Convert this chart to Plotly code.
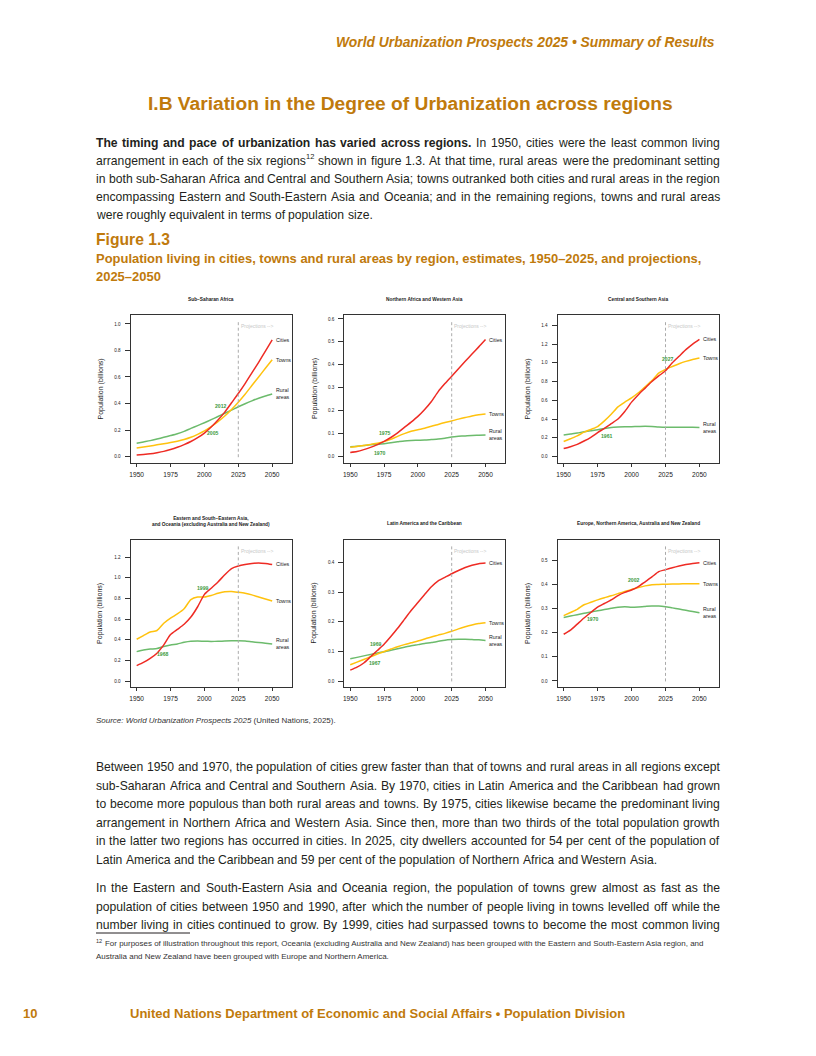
import plotly.graph_objects as go

W, H = 816, 1056
OX, OY = 8, 8   # the page body adds an 8px margin; compensate

years = [1950, 1955, 1960, 1965, 1970, 1975, 1980, 1985, 1990, 1995, 2000,
         2005, 2010, 2015, 2020, 2025, 2030, 2035, 2040, 2045, 2050]

# ---- data (billions) ----
ssa_cities = [.012, .016, .021, .029, .039, .053, .070, .090, .113, .142, .177,
              .222, .275, .335, .405, .475, .55, .63, .71, .795, .88]
ssa_towns = [.065, .072, .080, .088, .096, .105, .115, .128, .145, .167, .193,
             .225, .262, .305, .355, .41, .47, .535, .60, .665, .73]
ssa_rural = [.100, .110, .120, .132, .145, .158, .172, .190, .212, .233, .255,
             .278, .302, .326, .350, .375, .398, .420, .440, .457, .472]

naf_cities = [.018, .022, .030, .040, .052, .066, .083, .103, .127, .150, .175,
              .205, .240, .283, .318, .350, .383, .415, .447, .478, .51]
naf_towns = [.040, .044, .048, .053, .058, .065, .075, .088, .100, .110, .117,
             .123, .132, .140, .148, .155, .163, .170, .177, .182, .185]
naf_rural = [.043, .045, .048, .051, .053, .056, .060, .064, .068, .070, .071,
             .072, .074, .076, .080, .085, .088, .090, .092, .093, .094]

csa_cities = [.085, .105, .130, .165, .205, .255, .30, .35, .40, .48, .58,
              .66, .73, .80, .86, .915, 1.00, 1.07, 1.14, 1.20, 1.25]
csa_towns = [.16, .19, .22, .26, .29, .32, .38, .45, .53, .58, .625,
             .68, .745, .81, .89, .93, .96, .99, 1.015, 1.035, 1.05]
csa_rural = [.23, .24, .25, .265, .275, .285, .30, .31, .315, .318, .318,
             .32, .322, .32, .315, .312, .312, .312, .311, .311, .31]

esa_cities = [.149, .18, .22, .27, .35, .45, .50, .55, .62, .72, .84,
              .90, .96, 1.03, 1.09, 1.115, 1.13, 1.14, 1.145, 1.14, 1.13]
esa_towns = [.405, .44, .475, .49, .56, .61, .65, .70, .79, .815, .815,
             .83, .85, .865, .868, .86, .85, .835, .815, .795, .775]
esa_rural = [.285, .30, .31, .315, .335, .35, .36, .375, .385, .387, .385,
             .384, .385, .388, .39, .39, .387, .38, .374, .367, .36]

lac_cities = [.037, .047, .061, .082, .103, .124, .150, .178, .208, .238, .265,
              .292, .318, .338, .350, .362, .373, .383, .391, .396, .398]
lac_towns = [.055, .064, .073, .082, .091, .100, .108, .116, .123, .129, .135,
             .142, .149, .155, .161, .168, .176, .183, .189, .194, .197]
lac_rural = [.075, .080, .085, .090, .095, .099, .104, .109, .114, .119, .123,
             .127, .130, .134, .138, .140, .141, .141, .140, .139, .137]

eur_cities = [.193, .21, .235, .26, .283, .305, .32, .335, .353, .366, .376,
              .39, .41, .43, .452, .46, .468, .475, .481, .486, .489]
eur_towns = [.270, .283, .296, .315, .325, .335, .344, .352, .361, .370, .378,
             .386, .393, .398, .399, .400, .401, .401, .402, .402, .402]
eur_rural = [.262, .268, .274, .28, .285, .29, .295, .30, .305, .307, .305,
             .306, .308, .31, .31, .307, .302, .297, .292, .287, .282]

titles = ["Sub\u2212Saharan Africa", "Northern Africa and Western Asia",
          "Central and Southern Asia",
          "Eastern and South\u2212Eastern Asia,<br>and Oceania (excluding Australia and New Zealand)",
          "Latin America and the Caribbean",
          "Europe, Northern America, Australia and New Zealand"]

y_ticks = [[0, 0.2, 0.4, 0.6, 0.8, 1.0],
           [0, 0.1, 0.2, 0.3, 0.4, 0.5, 0.6],
           [0, 0.2, 0.4, 0.6, 0.8, 1.0, 1.2, 1.4],
           [0, 0.2, 0.4, 0.6, 0.8, 1.0, 1.2],
           [0, 0.1, 0.2, 0.3, 0.4],
           [0, 0.1, 0.2, 0.3, 0.4, 0.5]]
y_ranges = [[-0.045, 1.067], [-0.026, 0.617], [-0.064, 1.510],
            [-0.055, 1.370], [-0.019, 0.477], [-0.024, 0.584]]
x_ticks = [1950, 1975, 2000, 2025, 2050]

# crossing-year labels: (text, year, value)
cross_labels = [[("2012", 2011.7, 0.38), ("2005", 2006.0, 0.175)],
                [("1975", 1975.5, 0.104), ("1970", 1971.3, 0.017)],
                [("2027", 2026.7, 1.043), ("1961", 1981.4, 0.223)],
                [("1999", 1998.9, 0.906), ("1968", 1969.3, 0.262)],
                [("1969", 1969.0, 0.124), ("1967", 1968.0, 0.060)],
                [("2002", 2001.6, 0.417), ("1970", 1970.9, 0.258)]]

series = [(ssa_cities, ssa_towns, ssa_rural), (naf_cities, naf_towns, naf_rural),
          (csa_cities, csa_towns, csa_rural), (esa_cities, esa_towns, esa_rural),
          (lac_cities, lac_towns, lac_rural), (eur_cities, eur_towns, eur_rural)]

# ---- page text ----
header = "World Urbanization Prospects 2025 \u2022 Summary of Results"
section_title = "I.B Variation in the Degree of Urbanization across regions"
para1 = ["The timing and pace of urbanization has varied across regions. In 1950, cities were the least common living",
         "arrangement in each of the six regions^12 shown in figure 1.3. At that time, rural areas were the predominant setting",
         "in both sub-Saharan Africa and Central and Southern Asia; towns outranked both cities and rural areas in the region",
         "encompassing Eastern and South-Eastern Asia and Oceania; and in the remaining regions, towns and rural areas",
         "were roughly equivalent in terms of population size."]
para1_bold_words = 10
fig_label = "Figure 1.3"
fig_title = ["Population living in cities, towns and rural areas by region, estimates, 1950\u20132025, and projections,",
             "2025\u20132050"]
source_it = "Source: World Urbanization Prospects 2025"
source_rest = " (United Nations, 2025)."
para2 = ["Between 1950 and 1970, the population of cities grew faster than that of towns and rural areas in all regions except",
         "sub-Saharan Africa and Central and Southern Asia. By 1970, cities in Latin America and the Caribbean had grown",
         "to become more populous than both rural areas and towns. By 1975, cities likewise became the predominant living",
         "arrangement in Northern Africa and Western Asia. Since then, more than two thirds of the total population growth",
         "in the latter two regions has occurred in cities. In 2025, city dwellers accounted for 54 per cent of the population of",
         "Latin America and the Caribbean and 59 per cent of the population of Northern Africa and Western Asia."]
para3 = ["In the Eastern and South-Eastern Asia and Oceania region, the population of towns grew almost as fast as the",
         "population of cities between 1950 and 1990, after which the number of people living in towns levelled off while the",
         "number living in cities continued to grow. By 1999, cities had surpassed towns to become the most common living"]
footnote_mark = "12"
footnote = ["For purposes of illustration throughout this report, Oceania (excluding Australia and New Zealand) has been grouped with the Eastern and South-Eastern Asia region, and",
            "Australia and New Zealand have been grouped with Europe and Northern America."]
footer_page = "10"
footer_text = "United Nations Department of Economic and Social Affairs \u2022 Population Division"

# ---- geometry (pixels on the page) ----
col_px = [(130.7, 291.7), (344.3, 505.0), (557.7, 719.0)]
row_px = [(315.0, 462.5), (539.7, 686.7)]

RED, YEL, GRN = "#ee2b24", "#ffc20e", "#6cbb6c"
LBLGRN = "#3d9a3d"
ORANGE = "#c07a0c"
TXT = "#231f20"
FONT = "Liberation Sans, Arial, Helvetica, sans-serif"

# Helvetica/Arial advance widths (per 1000 em) for fitting text
_REG = {' ': 278, '!': 278, '"': 355, "'": 191, '(': 333, ')': 333, ',': 278, '-': 333,
        '.': 278, '/': 278, ':': 278, ';': 278, '?': 556, '\u2013': 556, '\u2022': 350,
        '\u2212': 584, '>': 584, '<': 584,
        'A': 667, 'B': 667, 'C': 722, 'D': 722, 'E': 667, 'F': 611, 'G': 778, 'H': 722,
        'I': 278, 'J': 500, 'K': 667, 'L': 556, 'M': 833, 'N': 722, 'O': 778, 'P': 667,
        'Q': 778, 'R': 722, 'S': 667, 'T': 611, 'U': 722, 'V': 667, 'W': 944, 'X': 667,
        'Y': 667, 'Z': 611,
        'a': 556, 'b': 556, 'c': 500, 'd': 556, 'e': 556, 'f': 278, 'g': 556, 'h': 556,
        'i': 222, 'j': 222, 'k': 500, 'l': 222, 'm': 833, 'n': 556, 'o': 556, 'p': 556,
        'q': 556, 'r': 333, 's': 500, 't': 278, 'u': 556, 'v': 500, 'w': 722, 'x': 500,
        'y': 500, 'z': 500}
_BOLD = dict(_REG)
_BOLD.update({':': 333, ';': 333, 'A': 722, 'B': 722, 'J': 556, 'K': 722, 'L': 611,
              'b': 611, 'c': 556, 'd': 611, 'f': 333, 'g': 611, 'h': 611, 'i': 278,
              'j': 278, 'k': 556, 'l': 278, 'm': 889, 'n': 611, 'o': 611, 'p': 611,
              'q': 611, 'r': 389, 's': 556, 't': 333, 'u': 611, 'v': 556, 'w': 778,
              'x': 556, 'y': 556})


def em_width(s, bold=False):
    tbl = _BOLD if bold else _REG
    return sum(tbl.get(ch, 556) for ch in s) / 1000.0


def px(x):
    return (x - OX) / W


def py(y):
    return 1 - (y - OY) / H


fig = go.Figure()
annotations = []
shapes = []
layout = {}

for i in range(6):
    r, c = divmod(i, 3)
    n = i + 1
    xa = "x" if n == 1 else f"x{n}"
    ya = "y" if n == 1 else f"y{n}"
    cities, towns, rural = series[i]
    for vals, col in ((rural, GRN), (towns, YEL), (cities, RED)):
        fig.add_trace(go.Scatter(x=years, y=vals, mode="lines",
                                 line=dict(color=col, width=1.5, shape="spline", smoothing=0.6),
                                 xaxis=xa, yaxis=ya, showlegend=False,
                                 hoverinfo="skip"))
    xl, xr = col_px[c]
    yt, yb = row_px[r]
    ax_common = dict(showline=True, mirror=True, linecolor="#333", linewidth=1.2,
                     ticks="outside", tickcolor="#333", tickwidth=0.8,
                     showgrid=False, zeroline=False)
    layout["xaxis" if n == 1 else f"xaxis{n}"] = dict(
        domain=[px(xl), px(xr)], range=[1945.6, 2064.4], tickvals=x_ticks,
        anchor=ya, ticklen=3.5, ticklabelstandoff=2,
        tickfont=dict(size=6.6, color="#222", family=FONT), **ax_common)
    layout["yaxis" if n == 1 else f"yaxis{n}"] = dict(
        domain=[py(yb), py(yt)], range=y_ranges[i], tickvals=y_ticks[i],
        ticktext=[f"{v:.1f}" for v in y_ticks[i]], anchor=xa,
        ticklen=5, ticklabelstandoff=3,
        tickfont=dict(size=4.6, color="#222", family=FONT), **ax_common)

    shapes.append(dict(type="line", xref=xa, yref=f"{ya} domain", x0=2025, x1=2025,
                       y0=0.036, y1=0.965,
                       line=dict(color="#aaaaaa", width=1, dash="3px,2.5px")))
    annotations.append(dict(xref=xa, yref=f"{ya} domain", x=2025.5, y=0.925,
                            text="Projections -->", showarrow=False, xanchor="left",
                            yanchor="middle",
                            font=dict(size=5, color="#c8c8c8", family=FONT)))
    for txt, vals in (("Cities", cities), ("Towns", towns), ("Rural<br>areas", rural)):
        annotations.append(dict(xref=xa, yref=ya, x=2051.0, y=vals[-1], text=txt,
                                showarrow=False, xanchor="left", yanchor="middle",
                                align="left",
                                font=dict(size=5.3, color="#222", family=FONT)))
    for txt, xv, yv in cross_labels[i]:
        annotations.append(dict(xref=xa, yref=ya, x=xv, y=yv, text=f"<b>{txt}</b>",
                                showarrow=False, xanchor="center", yanchor="middle",
                                font=dict(size=5.1, color=LBLGRN, family=FONT)))
    ty = 299 if r == 0 else (521 if i == 3 else 523)
    annotations.append(dict(xref="paper", yref="paper", x=px((xl + xr) / 2), y=py(ty),
                            text=f"<b>{titles[i]}</b>", showarrow=False,
                            xanchor="center", yanchor="middle",
                            font=dict(size=4.8, color="#222", family=FONT)))
    annotations.append(dict(xref="paper", yref="paper", x=px(xl - 30),
                            y=py((yt + yb) / 2), text="Population (billions)",
                            textangle=-90, showarrow=False, xanchor="center",
                            yanchor="middle",
                            font=dict(size=7, color="#222", family=FONT)))


def text(x, y, s, size, color=TXT, anchor="left"):
    annotations.append(dict(xref="paper", yref="paper", x=px(x), y=py(y), text=s,
                            showarrow=False, xanchor=anchor, yanchor="middle",
                            borderpad=0, borderwidth=0,
                            font=dict(size=size, color=color, family=FONT)))


def fit(s, width, bold=False):
    return width / em_width(s, bold)


# header and titles
text(715, 42, f"<b><i>{header}</i></b>", fit(header, 379, True), ORANGE, "right")
text(410, 103, f"<b>{section_title}</b>", fit(section_title, 526, True), ORANGE, "center")

# justified body text, word by word
X0, X1 = 96, 720


def tokens(line, bold_n=0):
    out = []
    for k, w in enumerate(line.split(" ")):
        b = k < bold_n
        sup = ""
        if "^" in w:
            w, sup = w.split("^")
        html = f"<b>{w}</b>" if b else w
        out.append((html, em_width(w, b), sup, 0.62 * em_width(sup, b)))
    return out


def natural(t):
    return sum(a + s for _, a, _, s in t) + 0.278 * (len(t) - 1)


all_body = [tokens(para1[0], para1_bold_words)] + [tokens(l) for l in para1[1:]] + \
           [tokens(l) for l in para2] + [tokens(l) for l in para3]
body_size = min(12.5, min((X1 - X0) / natural(t) for t in all_body))


def place_line(toks, y, justify=True):
    widths = [(a + s) * body_size for _, a, _, s in toks]
    gap = (X1 - X0 - sum(widths)) / (len(toks) - 1) if justify else 0.278 * body_size
    x = X0
    for k, (html, a, sup, s) in enumerate(toks):
        if justify and k == len(toks) - 1 and not sup:
            text(X1, y, html, body_size, TXT, "right")
        else:
            text(x, y, html, body_size, TXT, "left")
        if sup:
            text(x + a * body_size + 0.3, y - 0.36 * body_size, sup,
                 0.62 * body_size, TXT, "left")
        x += widths[k] + gap


for k, line in enumerate(para1):
    place_line(tokens(line, para1_bold_words if k == 0 else 0), 143 + k * 18.1,
               justify=k < len(para1) - 1)
for k, line in enumerate(para2):
    place_line(tokens(line), 767 + k * 18.6, justify=k < len(para2) - 1)
for k, line in enumerate(para3):
    place_line(tokens(line), 888 + k * 18.6, justify=True)

# figure heading
text(96, 239, f"<b>{fig_label}</b>", fit(fig_label, 74, True), ORANGE)
ft_size = fit(fig_title[0], 606, True)
text(96, 258, f"<b>{fig_title[0]}</b>", ft_size, ORANGE)
text(96, 276, f"<b>{fig_title[1]}</b>", ft_size, ORANGE)

src_size = fit(source_it + source_rest, 240)
text(96, 720, f"<i>{source_it}</i>{source_rest}", src_size, "#333")

shapes.append(dict(type="line", xref="paper", yref="paper", x0=px(96), x1=px(190),
                   y0=py(933), y1=py(933), line=dict(color=TXT, width=1)))
fn_size = fit(footnote[0], 600)
text(96, 940.5, footnote_mark, 0.7 * fn_size, "#333")
text(96 + em_width(footnote_mark) * 0.7 * fn_size + 2.5, 943, footnote[0], fn_size, "#333")
text(96, 956, footnote[1], fn_size, "#333")

text(30, 1013, f"<b>{footer_page}</b>", 13, ORANGE, "center")
text(130, 1013, f"<b>{footer_text}</b>", 13, ORANGE)

fig.update_layout(width=W, height=H, margin=dict(l=0, r=0, t=0, b=0),
                  paper_bgcolor="white", plot_bgcolor="white",
                  annotations=annotations, shapes=shapes, showlegend=False,
                  font=dict(family=FONT), **layout)

fig.write_html("out.html")
